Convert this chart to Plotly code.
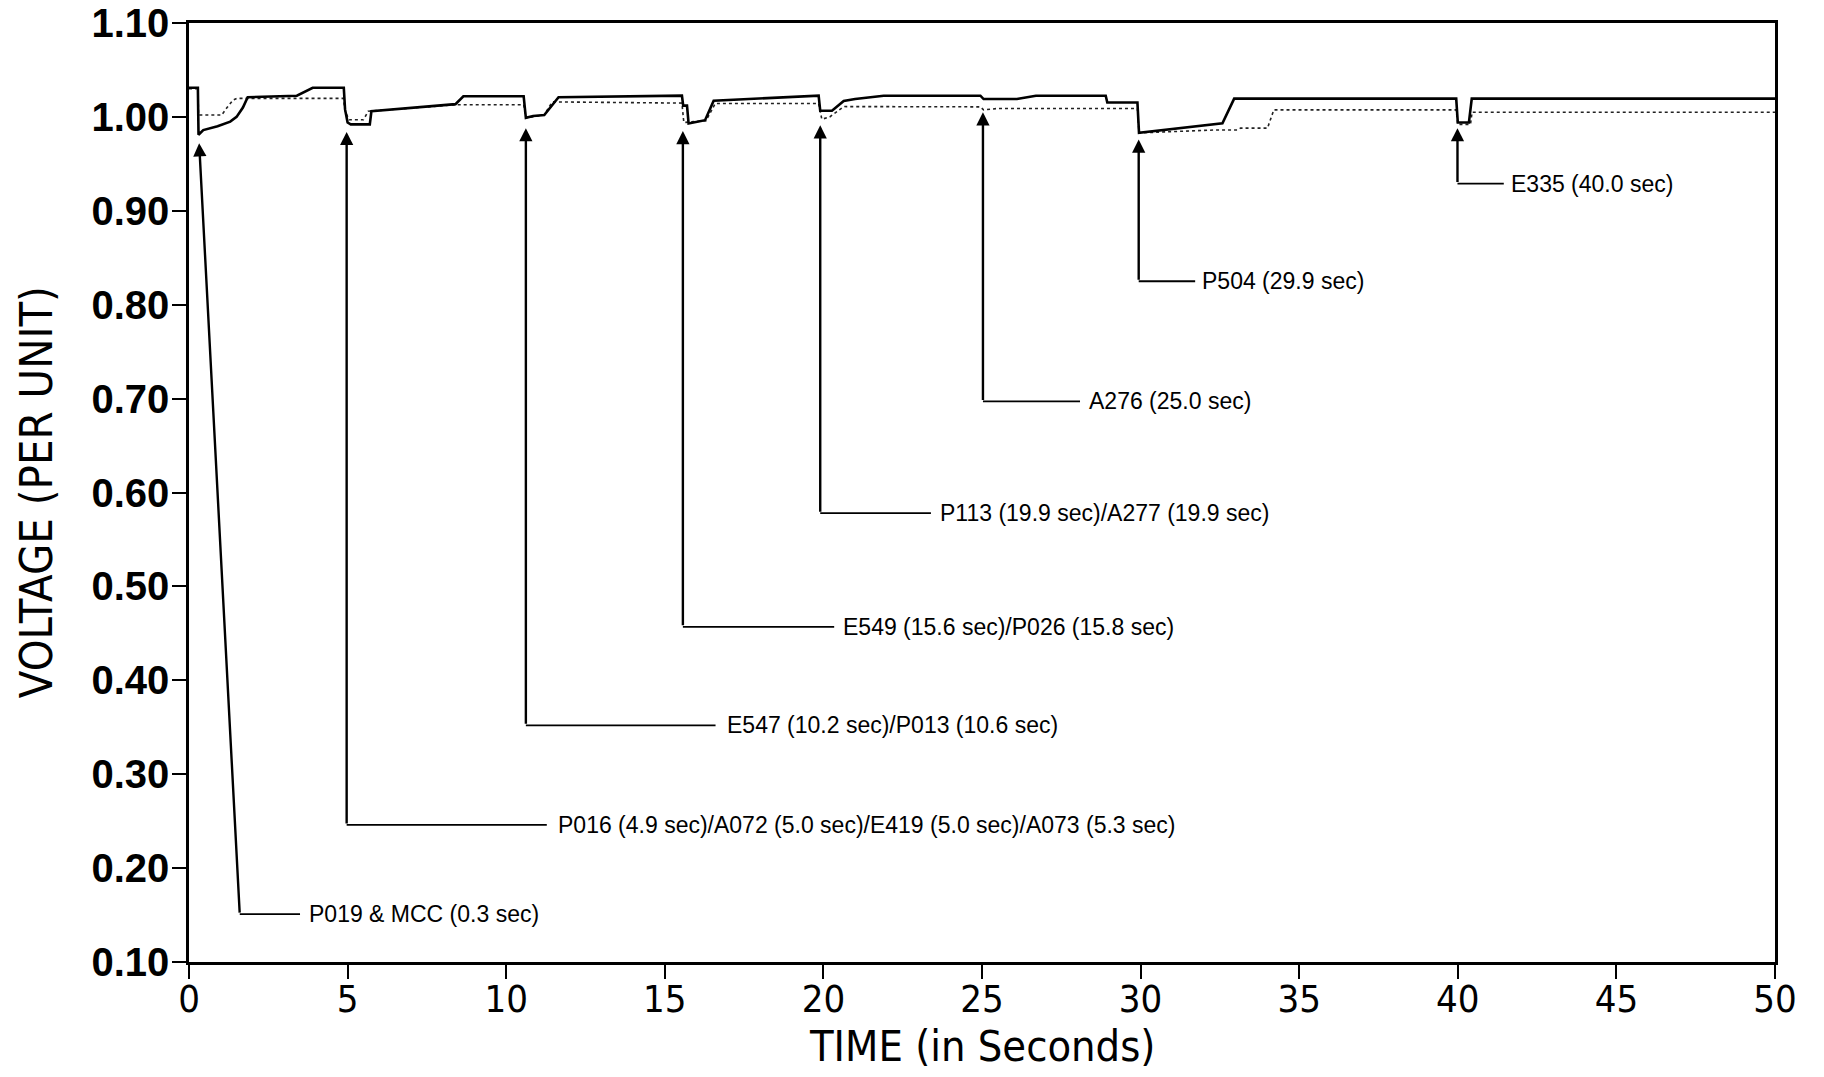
import plotly.graph_objects as go

# ---- data ----
t_solid = [0, 0.28, 0.30, 0.45, 0.9, 1.3, 1.5, 1.7, 1.85, 3.4, 3.9, 4.88, 4.92, 5.0, 5.1, 5.7, 5.75,
           8.4, 8.65, 10.55, 10.62, 10.85, 11.2, 11.65, 15.54, 15.58, 15.7, 15.75, 16.27, 16.54,
           19.85, 19.9, 20.27, 20.64, 21.0, 21.9, 24.95, 25.05, 26.1, 26.7, 28.9, 28.95, 29.9,
           29.95, 32.58, 32.95, 39.95, 40.0, 40.35, 40.44, 50]
v_solid = [1.031, 1.031, 0.981, 0.986, 0.990, 0.995, 1.000, 1.010, 1.021, 1.0225, 1.031, 1.031, 1.008,
           0.994, 0.992, 0.992, 1.006, 1.0136, 1.022, 1.022, 0.999, 1.001, 1.002, 1.021, 1.0226,
           1.012, 1.012, 0.993, 0.9965, 1.0172, 1.0226, 1.0065, 1.0065, 1.017, 1.019, 1.0226,
           1.0226, 1.019, 1.019, 1.0226, 1.0226, 1.0154, 1.0154, 0.983, 0.9932, 1.0195, 1.0195,
           0.994, 0.994, 1.0195, 1.0195]

t_dotted = [0, 0.28, 0.30, 1.03, 1.2, 1.39, 1.5, 4.87, 4.92, 5.05, 5.5, 5.65, 8.44, 10.55, 10.62,
            11.2, 11.45, 15.54, 15.6, 16.3, 16.59, 19.85, 19.95, 20.2, 20.64, 24.95, 25.05, 25.5,
            29.9, 29.95, 32.3, 33.05, 33.15, 34.0, 34.2, 39.95, 40.0, 40.4, 40.45, 50]
v_dotted = [1.03, 1.03, 1.002, 1.002, 1.010, 1.018, 1.0197, 1.0197, 1.006, 0.997, 0.997, 1.006,
            1.013, 1.013, 0.999, 1.002, 1.016, 1.0147, 0.994, 0.996, 1.0143, 1.0143, 0.9975, 1.0,
            1.011, 1.0107, 1.0075, 1.009, 1.009, 0.983, 0.986, 0.986, 0.988, 0.988, 1.0075,
            1.0075, 0.992, 0.992, 1.005, 1.005]

event_labels = ["P019 & MCC (0.3 sec)",
                "P016 (4.9 sec)/A072 (5.0 sec)/E419 (5.0 sec)/A073 (5.3 sec)",
                "E547 (10.2 sec)/P013 (10.6 sec)",
                "E549 (15.6 sec)/P026 (15.8 sec)",
                "P113 (19.9 sec)/A277 (19.9 sec)",
                "A276 (25.0 sec)",
                "P504 (29.9 sec)",
                "E335 (40.0 sec)"]
event_time = [0.32, 4.97, 10.62, 15.57, 19.9, 25.03, 29.94, 39.99]
event_tip = [0.972, 0.984, 0.988, 0.985, 0.991, 1.005, 0.976, 0.988]
event_corner_t = [1.6, 4.97, 10.62, 15.57, 19.9, 25.03, 29.94, 39.99]
event_level = [0.151, 0.246, 0.352, 0.457, 0.578, 0.697, 0.825, 0.929]
event_line_end = [3.5, 11.28, 16.6, 20.34, 23.39, 28.09, 31.72, 41.45]
event_text_t = [3.72, 11.58, 16.9, 20.56, 23.61, 28.3, 31.87, 41.6]

x_ticks = [0, 5, 10, 15, 20, 25, 30, 35, 40, 45, 50]
y_ticks = [0.10, 0.20, 0.30, 0.40, 0.50, 0.60, 0.70, 0.80, 0.90, 1.00, 1.10]
y_tick_text = ["%.2f" % v for v in y_ticks]

NARROW = "Liberation Sans Narrow, Arial Narrow, DejaVu Sans Condensed, Liberation Sans, Arial, sans-serif"
SANS = "Liberation Sans, Arial, Helvetica, sans-serif"

fig = go.Figure()
fig.add_trace(go.Scatter(x=t_dotted, y=v_dotted, mode="lines",
                         line=dict(color="#222", width=1.6, dash="dot"), showlegend=False,
                         hoverinfo="skip"))
fig.add_trace(go.Scatter(x=t_solid, y=v_solid, mode="lines",
                         line=dict(color="black", width=2.6), showlegend=False, hoverinfo="skip"))

annotations = []
shapes = []
for lab, te, tip, ct, lev, le, tt in zip(event_labels, event_time, event_tip, event_corner_t,
                                         event_level, event_line_end, event_text_t):
    annotations.append(dict(x=te, y=tip, ax=ct, ay=lev, xref="x", yref="y", axref="x", ayref="y",
                            text="", showarrow=True, arrowhead=2, arrowsize=1.1, arrowwidth=2.4,
                            arrowcolor="black", standoff=0, startstandoff=0))
    shapes.append(dict(type="line", xref="x", yref="y", x0=ct, x1=le, y0=lev, y1=lev,
                       line=dict(color="black", width=1.8)))
    annotations.append(dict(x=tt, y=lev, xref="x", yref="y", text=lab, showarrow=False,
                            xanchor="left", yanchor="middle",
                            font=dict(family=SANS, size=23, color="black")))

annotations.append(dict(x=0.5, y=-0.0895, xref="paper", yref="paper", text="TIME (in Seconds)",
                        showarrow=False, xanchor="center", yanchor="middle",
                        font=dict(family=NARROW, size=43, color="black")))
annotations.append(dict(x=-0.096, y=0.5, xref="paper", yref="paper", text="VOLTAGE (PER UNIT)",
                        showarrow=False, xanchor="center", yanchor="middle", textangle=-90,
                        font=dict(family=NARROW, size=45, color="black")))

fig.update_layout(
    width=1808, height=1061,
    margin=dict(l=181, r=41, t=15, b=107, autoexpand=False),
    paper_bgcolor="white", plot_bgcolor="white",
    annotations=annotations, shapes=shapes,
    xaxis=dict(range=[0, 50], tickvals=x_ticks, ticktext=[str(v) for v in x_ticks],
               automargin=False,
               showgrid=False, zeroline=False, showline=True, linecolor="black", linewidth=2.5,
               mirror=True, ticks="outside", ticklen=14, tickwidth=1.5, tickcolor="black",
               ticklabelstandoff=-12, ticklabeloverflow="allow",
               tickfont=dict(family=NARROW, size=38, color="black")),
    yaxis=dict(range=[0.10, 1.10], tickvals=y_ticks, ticktext=y_tick_text,
               automargin=False,
               showgrid=False, zeroline=False, showline=True, linecolor="black", linewidth=2.5,
               mirror=True, ticks="outside", ticklen=14, tickwidth=1.5, tickcolor="black",
               ticklabelstandoff=-5, ticklabeloverflow="allow",
               tickfont=dict(family=SANS, size=40, color="black", weight="bold")),
)

fig.write_html("out.html")
